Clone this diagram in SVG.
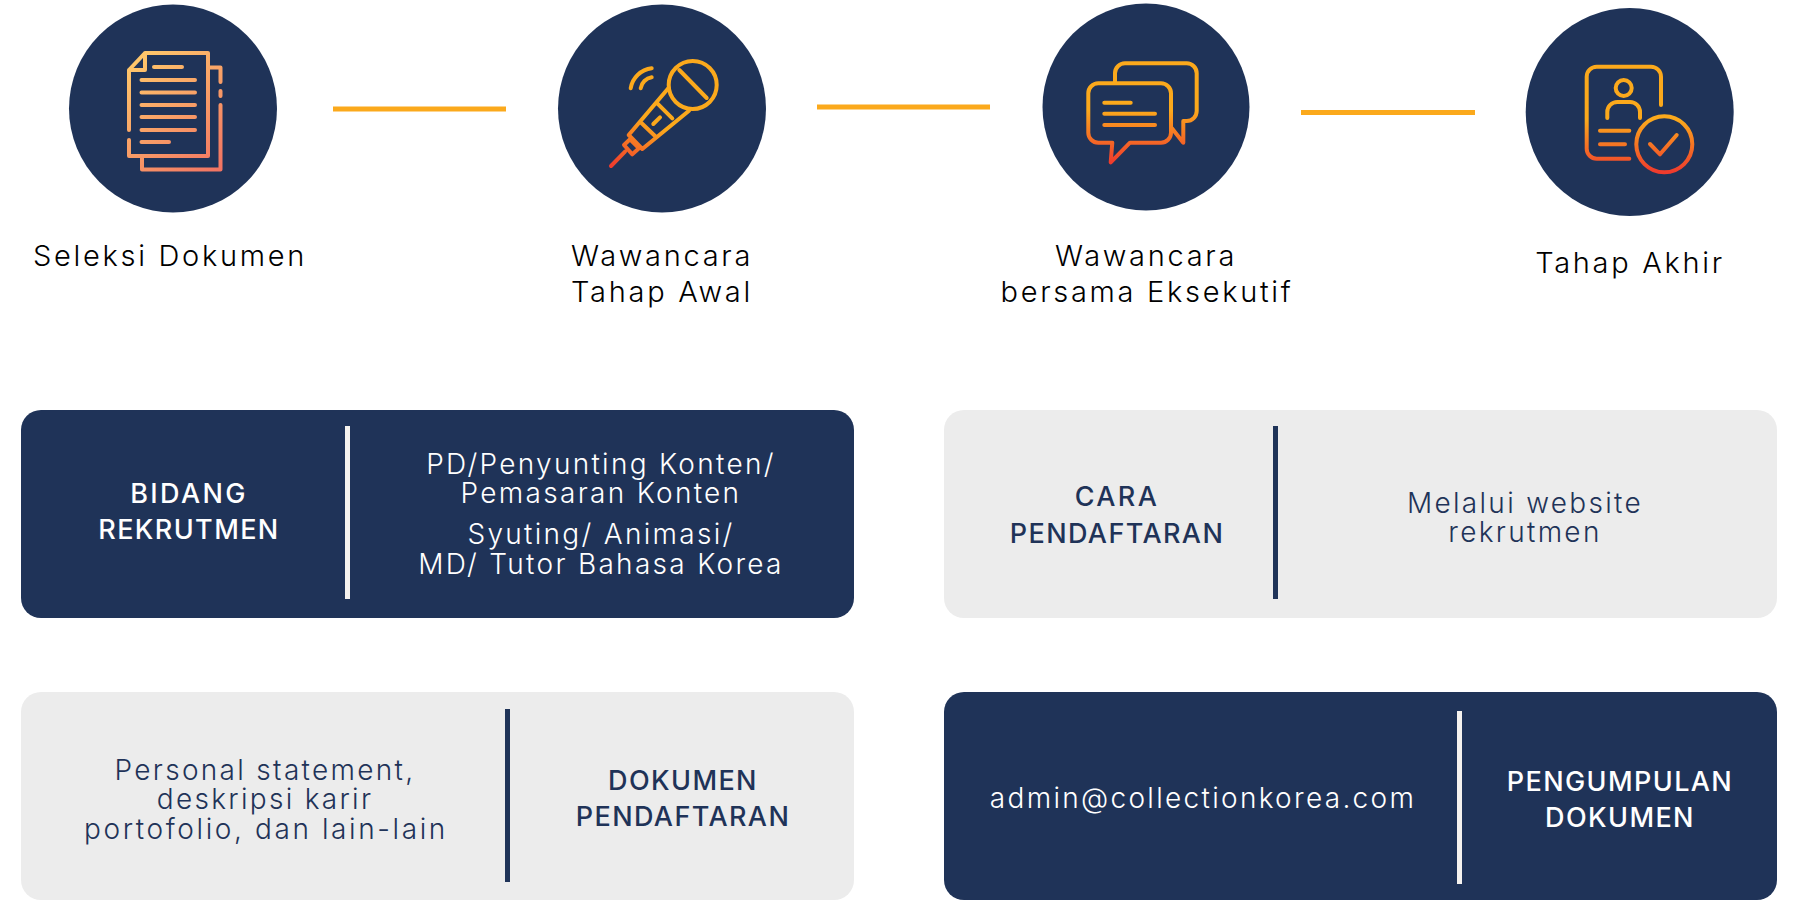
<svg xmlns="http://www.w3.org/2000/svg" width="1800" height="900" viewBox="0 0 1800 900">
<defs>
<linearGradient id="g1" gradientUnits="userSpaceOnUse" x1="130" y1="55" x2="220" y2="170"><stop offset="0" stop-color="#FFCB6B"/><stop offset="1" stop-color="#F27463"/></linearGradient>
<linearGradient id="g2" gradientUnits="userSpaceOnUse" x1="640" y1="115" x2="611" y2="166"><stop offset="0" stop-color="#FBA91C"/><stop offset="1" stop-color="#EF3B2D"/></linearGradient>
<linearGradient id="g3" gradientUnits="userSpaceOnUse" x1="1140" y1="110" x2="1140" y2="163"><stop offset="0" stop-color="#FBA91C"/><stop offset="1" stop-color="#EF3B2D"/></linearGradient>
<linearGradient id="g4" gradientUnits="userSpaceOnUse" x1="1640" y1="120" x2="1640" y2="172"><stop offset="0" stop-color="#FBA91C"/><stop offset="1" stop-color="#EF3B2D"/></linearGradient>
</defs>
<style>
text{font-family:Inter,"Liberation Sans",sans-serif;text-anchor:middle}
.c{fill:#1F3358}
.i{fill:none;stroke-width:4;stroke-linecap:round;stroke-linejoin:round}
.l{font-size:29px;letter-spacing:2.7px;fill:#000;font-weight:300}
.t{font-size:28px;letter-spacing:2.3px;font-weight:300}
.b{font-size:27px;font-weight:500;letter-spacing:1.4px}
.s{letter-spacing:2.4px}
.p{letter-spacing:2.6px}
.w{fill:#fff}.n{fill:#1F3358}
.d{fill:#F5F2EE}
.y{stroke:#FBA91C;stroke-width:5;fill:none}
</style>
<g id="connectors">
<path class="y" d="M333 109H506"/><path class="y" d="M817 107H990"/><path class="y" d="M1301 112.500H1475"/>
</g>
<g id="node-1"><circle class="c" cx="173" cy="108.500" r="104"/>
<g class="i" stroke="url(#g1)"><path d="M129 130V70L145 53H208V156H129V140M129 70H145V53M208 67.500H220.500V82M220.500 91V96M220.500 105V169.500H142V156M154 67H182M141.500 80H195M141.500 92.500H195M141.500 105H195M141.500 117H195M141.500 130H195M141.500 142H169"/></g>
<text class="l" x="170" y="266">Seleksi Dokumen</text></g>
<g id="node-2"><circle class="c" cx="662" cy="108.500" r="104"/>
<g class="i" stroke="url(#g2)"><circle cx="692.700" cy="85" r="24"/><path d="M679.300 70L706.700 98M668.300 88.300L628.700 135L642.300 149L689 110.700M657.300 103.300L672.300 118.300M641.700 123.300L655 136M653.300 124L660 117.300M624 145L630 139.300L639 148.300L632.300 154.300ZM611 166L625 151.700M630.700 88.300A24 24 0 0 1 651.700 68.300M640.700 88.300A13 13 0 0 1 651.700 77.300"/></g>
<text class="l" x="662" y="266">Wawancara</text><text class="l" x="662" y="302">Tahap Awal</text></g>
<g id="node-3"><circle class="c" cx="1146" cy="107" r="103.500"/>
<g class="i" stroke="url(#g3)"><path d="M1098.300 83.300H1161A10 10 0 0 1 1171 93.300V132.700A10 10 0 0 1 1161 142.700H1130L1110.700 162.300L1112.300 142.700H1098.300A10 10 0 0 1 1088.300 132.700V93.300A10 10 0 0 1 1098.300 83.300ZM1115 83.300V73.300A10 10 0 0 1 1125 63.300H1186.700A10 10 0 0 1 1196.700 73.300V111A10 10 0 0 1 1186.700 121H1183.300V142.700L1171.700 128M1104.300 102.700H1130.700M1104.300 113.700H1155M1104.300 125H1155"/></g>
<text class="l" x="1146" y="266">Wawancara</text><text class="l" x="1147" y="302">bersama Eksekutif</text></g>
<g id="node-4"><circle class="c" cx="1629.700" cy="112" r="104"/>
<g class="i" stroke="url(#g4)"><path d="M1629.300 158.700H1596.700A10 10 0 0 1 1586.700 148.700V76.700A10 10 0 0 1 1596.700 66.700H1651A10 10 0 0 1 1661 76.700V105M1607.300 118V112A10 10 0 0 1 1617.300 102H1630A10 10 0 0 1 1640 112V118M1600 130.700H1629.300M1600 144.300H1625M1650 144L1660 154.300L1676.700 135"/><circle cx="1623.700" cy="88" r="8"/><circle cx="1664.300" cy="144.300" r="28"/></g>
<text class="l" x="1630" y="273">Tahap Akhir</text></g>
<g id="box-1"><rect class="c" x="21" y="410" width="833" height="208" rx="20"/><rect class="d" x="345" y="426" width="5" height="173"/>
<text class="b s w" x="189" y="503">BIDANG</text><text class="b w" x="189" y="539">REKRUTMEN</text>
<g class="t w"><text x="601" y="474">PD/Penyunting Konten/</text><text x="601" y="503">Pemasaran Konten</text><text x="601" y="544">Syuting/ Animasi/</text><text x="601" y="574">MD/ Tutor Bahasa Korea</text></g></g>
<g id="box-2"><rect fill="#ECECEC" x="944" y="410" width="833" height="208" rx="20"/><rect class="n" x="1273" y="426" width="5" height="173"/>
<text class="b s n" x="1117" y="506">CARA</text><text class="b n" x="1117" y="543">PENDAFTARAN</text>
<g class="t n"><text x="1525" y="513">Melalui website</text><text x="1525" y="542">rekrutmen</text></g></g>
<g id="box-3"><rect fill="#ECECEC" x="21" y="692" width="833" height="208" rx="20"/><rect class="n" x="505" y="709" width="5" height="173"/>
<text class="b n" x="683" y="790">DOKUMEN</text><text class="b n" x="683" y="826">PENDAFTARAN</text>
<g class="t n"><text x="265" y="780">Personal statement,</text><text x="265" y="809">deskripsi karir</text><text class="p" x="266" y="839">portofolio, dan lain-lain</text></g></g>
<g id="box-4"><rect class="c" x="944" y="692" width="833" height="208" rx="20"/><rect class="d" x="1457" y="711" width="5" height="173"/>
<text class="b w" x="1620" y="791">PENGUMPULAN</text><text class="b w" x="1620" y="827">DOKUMEN</text>
<text class="t w" x="1203" y="808">admin@collectionkorea.com</text></g>
</svg>
